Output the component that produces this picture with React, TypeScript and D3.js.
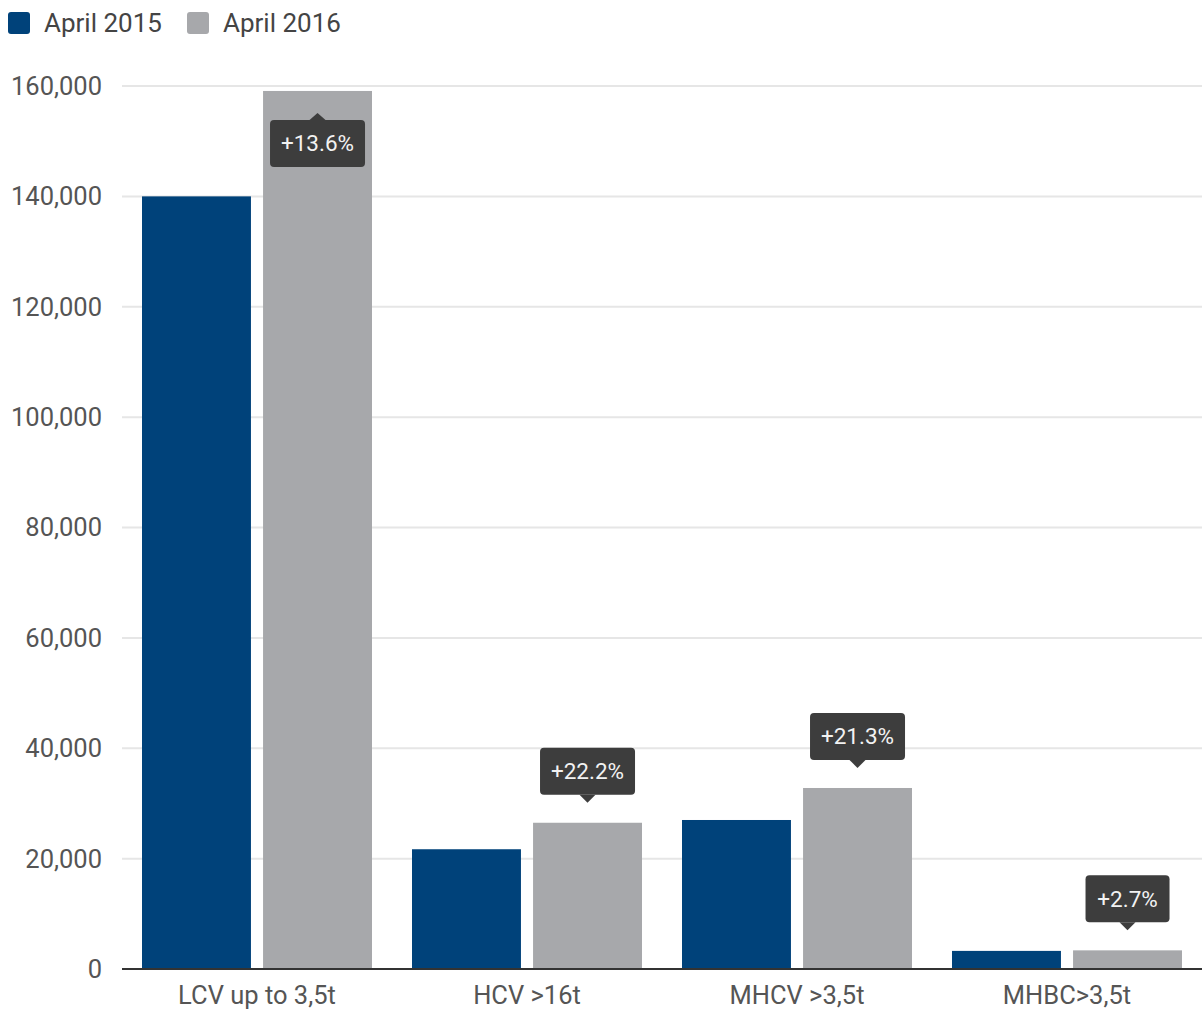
import { useEffect, useRef } from 'react';
import * as d3 from 'd3';

const categories = ['LCV up to 3,5t', 'HCV >16t', 'MHCV >3,5t', 'MHBC>3,5t'];
const seriesNames = ['April 2015', 'April 2016'];
const april2015 = [140000, 21700, 27000, 3280];
const april2016 = [159100, 26500, 32800, 3380];
const changeLabels = ['+13.6%', '+22.2%', '+21.3%', '+2.7%'];
const yTicks = [0, 20000, 40000, 60000, 80000, 100000, 120000, 140000, 160000];

const colors = ['#00427a', '#a7a8ab'];

export default function App() {
	const svgRef = useRef(null);

	useEffect(() => {
		const width = 1202;
		const height = 1011;
		const margin = { top: 86, right: 0, bottom: 42, left: 122 };
		const innerW = width - margin.left - margin.right;
		const innerH = height - margin.top - margin.bottom;

		const svg = d3.select(svgRef.current)
			.attr('width', width)
			.attr('height', height)
			.style('font-family', 'Roboto, sans-serif');

		svg.selectAll('*').remove();

		// legend
		const legend = svg.append('g');
		const legendX = [8, 187];
		seriesNames.forEach((name, i) => {
			legend.append('rect')
				.attr('x', legendX[i])
				.attr('y', 12)
				.attr('width', 22)
				.attr('height', 22)
				.attr('rx', 3)
				.attr('fill', colors[i]);
			legend.append('text')
				.attr('x', legendX[i] + 36)
				.attr('y', 32)
				.attr('font-size', 26)
				.attr('fill', '#444')
				.text(name);
		});

		const g = svg.append('g')
			.attr('transform', `translate(${margin.left}, ${margin.top})`);

		const x = d3.scaleBand()
			.domain(categories)
			.range([0, innerW])
			.padding(0);

		const xInner = d3.scaleBand()
			.domain(seriesNames)
			.range([20, x.bandwidth() - 20])
			.paddingInner(0.1);

		const y = d3.scaleLinear()
			.domain([0, 160000])
			.range([innerH, 0]);

		// gridlines
		g.selectAll('.grid')
			.data(yTicks.filter(d => d > 0))
			.join('line')
			.attr('x1', 0)
			.attr('x2', innerW)
			.attr('y1', d => y(d))
			.attr('y2', d => y(d))
			.attr('stroke', '#e6e6e6')
			.attr('stroke-width', 2);

		// y labels
		g.selectAll('.ylab')
			.data(yTicks)
			.join('text')
			.attr('x', -20)
			.attr('y', d => y(d))
			.attr('dy', '0.35em')
			.attr('text-anchor', 'end')
			.attr('font-size', 25.5)
			.attr('fill', '#555')
			.text(d => d3.format(',')(d));

		const rows = categories.map((c, i) => ({
			cat: c,
			values: [april2015[i], april2016[i]],
			label: changeLabels[i],
		}));

		const groups = g.selectAll('.grp')
			.data(rows)
			.join('g')
			.attr('transform', d => `translate(${x(d.cat)}, 0)`);

		groups.selectAll('rect')
			.data(d => d.values.map((v, i) => ({ key: seriesNames[i], v, i })))
			.join('rect')
			.attr('x', d => xInner(d.key))
			.attr('width', xInner.bandwidth())
			.attr('y', d => y(d.v))
			.attr('height', d => innerH - y(d.v))
			.attr('fill', d => colors[d.i]);

		// baseline
		g.append('line')
			.attr('x1', 0)
			.attr('x2', innerW)
			.attr('y1', innerH)
			.attr('y2', innerH)
			.attr('stroke', '#333')
			.attr('stroke-width', 2);

		// category labels
		g.selectAll('.xlab')
			.data(categories)
			.join('text')
			.attr('x', d => x(d) + x.bandwidth() / 2)
			.attr('y', innerH + 35)
			.attr('text-anchor', 'middle')
			.attr('font-size', 25.5)
			.attr('fill', '#555')
			.text(d => d);

		// change callouts
		const boxH = 47;
		rows.forEach(d => {
			const cx = x(d.cat) + xInner(seriesNames[1]) + xInner.bandwidth() / 2;
			const top = y(d.values[1]);
			const boxW = d.label.length > 5 ? 95 : 84;
			const inside = top < 60;
			const tg = g.append('g');
			let boxY;
			let path;
			if (inside) {
				const tipY = top + 22;
				boxY = tipY + 7;
				path = `M${cx - 8},${boxY} L${cx},${tipY} L${cx + 8},${boxY} Z`;
			} else {
				const tipY = top - 20;
				boxY = tipY - 8 - boxH;
				path = `M${cx - 8},${boxY + boxH} L${cx},${tipY} L${cx + 8},${boxY + boxH} Z`;
			}
			tg.append('rect')
				.attr('x', cx - boxW / 2)
				.attr('y', boxY)
				.attr('width', boxW)
				.attr('height', boxH)
				.attr('rx', 4)
				.attr('fill', '#3d3d3d');
			tg.append('path')
				.attr('d', path)
				.attr('fill', '#3d3d3d');
			tg.append('text')
				.attr('x', cx)
				.attr('y', boxY + boxH / 2)
				.attr('dy', '0.35em')
				.attr('text-anchor', 'middle')
				.attr('font-size', 22.5)
				.attr('fill', '#f2f2f2')
				.text(d.label);
		});
	}, []);

	return (
		<div style={{ position: 'absolute', left: 0, top: 0 }}>
			<svg ref={svgRef} style={{ display: 'block' }}></svg>
		</div>
	);
}
